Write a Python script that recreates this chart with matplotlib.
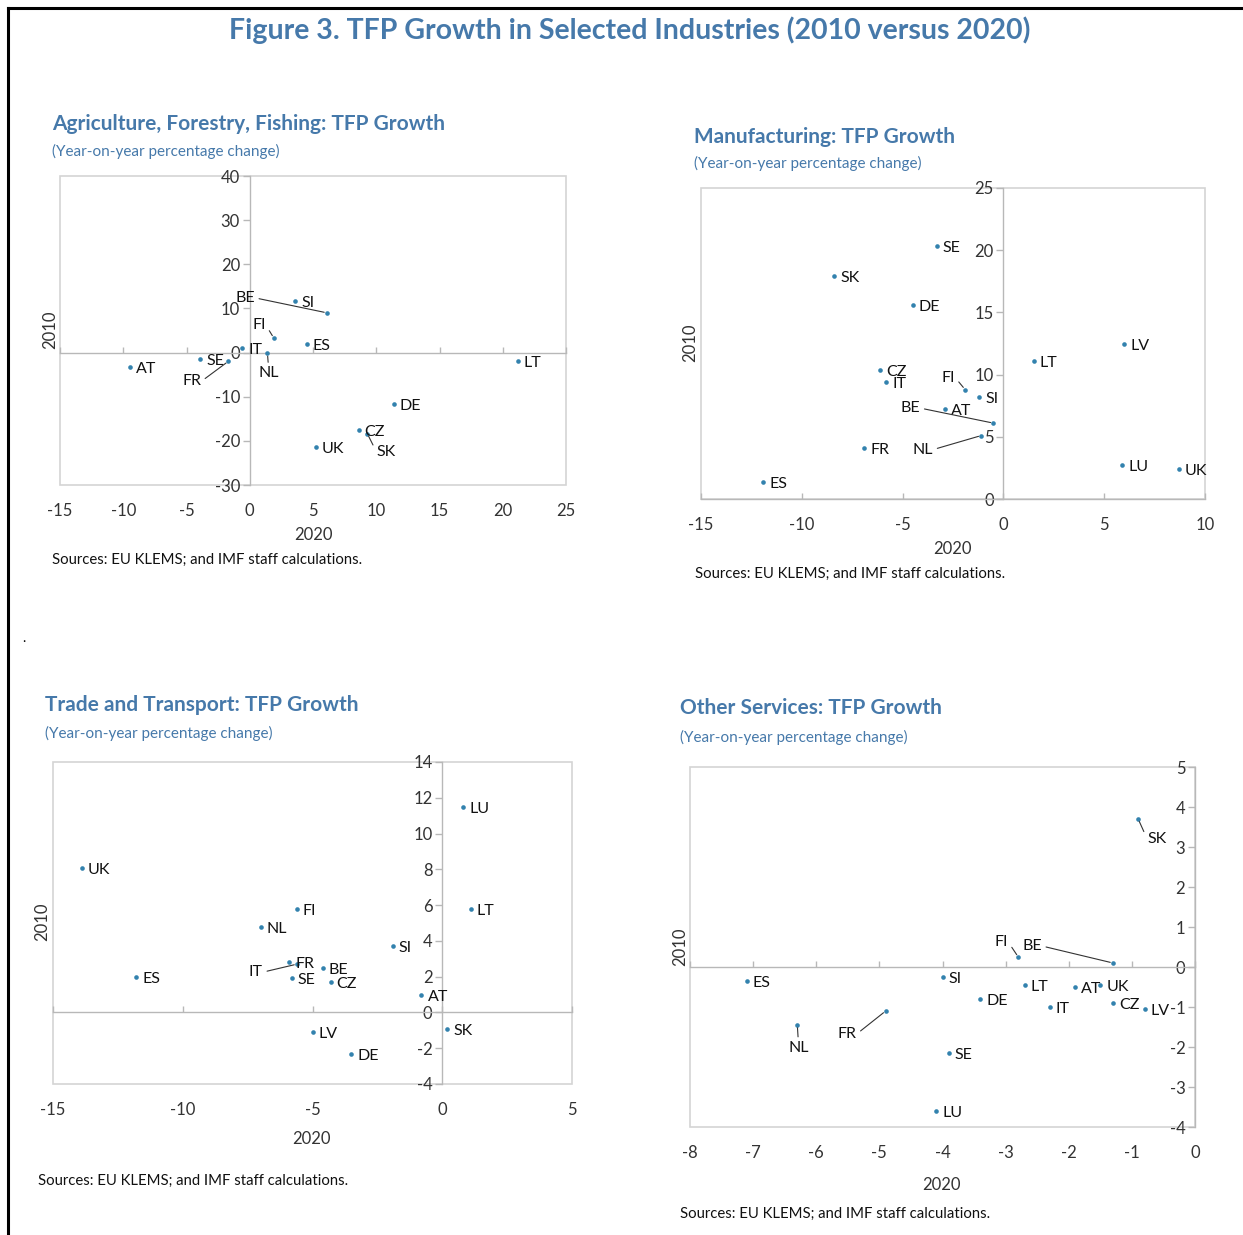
import matplotlib
matplotlib.use("Agg")
import matplotlib.pyplot as plt
from matplotlib.lines import Line2D
from matplotlib.patches import Rectangle

W, H = 1243, 1235
plt.rcParams['font.family'] = ['Liberation Sans Narrow', 'Lato', 'DejaVu Sans']

# ---- data: TFP growth, 2020 (x) versus 2010 (y), year-on-year % change ----
agri_countries = ["AT", "SE", "FR", "IT", "NL", "FI", "ES", "SI", "BE", "LT", "DE", "CZ", "SK", "UK"]
agri_2020 = [-9.5, -3.9, -1.7, -0.6, 1.4, 1.9, 4.5, 3.6, 6.1, 21.2, 11.4, 8.6, 9.3, 5.2]
agri_2010 = [-3.3, -1.4, -2.0, 1.1, -0.2, 3.3, 2.0, 11.6, 9.0, -2.0, -11.6, -17.6, -18.4, -21.5]

manu_countries = ["SE", "SK", "DE", "LV", "LT", "CZ", "IT", "FI", "SI", "AT", "BE", "NL", "FR", "ES", "LU", "UK"]
manu_2020 = [-3.3, -8.4, -4.5, 6.0, 1.5, -6.1, -5.8, -1.9, -1.2, -2.9, -0.5, -1.1, -6.9, -11.9, 5.9, 8.7]
manu_2010 = [20.3, 17.9, 15.6, 12.5, 11.1, 10.4, 9.4, 8.8, 8.2, 7.2, 6.1, 5.1, 4.1, 1.4, 2.7, 2.4]

trade_countries = ["UK", "LU", "LT", "FI", "NL", "SI", "IT", "FR", "BE", "ES", "SE", "CZ", "AT", "SK", "LV", "DE"]
trade_2020 = [-13.9, 0.8, 1.1, -5.6, -7.0, -1.9, -5.6, -5.9, -4.6, -11.8, -5.8, -4.3, -0.8, 0.2, -5.0, -3.5]
trade_2010 = [8.1, 11.5, 5.8, 5.8, 4.8, 3.7, 2.7, 2.8, 2.5, 2.0, 1.9, 1.7, 1.0, -0.9, -1.1, -2.3]

serv_countries = ["SK", "FI", "BE", "ES", "SI", "LT", "AT", "UK", "DE", "IT", "CZ", "LV", "FR", "NL", "SE", "LU"]
serv_2020 = [-0.9, -2.8, -1.3, -7.1, -4.0, -2.7, -1.9, -1.5, -3.4, -2.3, -1.3, -0.8, -4.9, -6.3, -3.9, -4.1]
serv_2010 = [3.7, 0.25, 0.1, -0.35, -0.25, -0.45, -0.5, -0.45, -0.8, -1.0, -0.9, -1.05, -1.1, -1.45, -2.15, -3.6]

# ---- style ----
BLUE = "#4679aa"
DOT = "#3382ae"
BOX = "#d4d4d4"
ZERO = "#b8b8b8"
TICK_TXT = "#333333"

fig = plt.figure(figsize=(W / 100, H / 100), dpi=100)
fig.patch.set_facecolor("white")


def fx(px):
    return px / W


def fy(py):
    return 1 - py / H


def make_axes(x0, x1, y0, y1):
    return fig.add_axes([fx(x0), fy(y1), (x1 - x0) / W, (y1 - y0) / H])


def style_axes(ax, xlim, ylim, xticks, yticks):
    ax.set_xlim(xlim)
    ax.set_ylim(ylim)
    ax.set_xticks(xticks)
    ax.set_yticks(yticks)
    ax.set_xticklabels([f"{t:g}" for t in xticks])
    ax.set_yticklabels([f"{t:g}" for t in yticks])
    ax.spines['right'].set_visible(False)
    ax.spines['bottom'].set_visible(False)
    ax.spines['top'].set_position(('data', 0))
    ax.spines['left'].set_position(('data', 0))
    for s in ('top', 'left'):
        ax.spines[s].set_color(ZERO)
        ax.spines[s].set_linewidth(1.0)
    ax.tick_params(axis='x', bottom=False, top=True, labelbottom=True, labeltop=False,
                   direction='out', length=4, width=1.0, color=ZERO, pad=9,
                   labelsize=12, labelcolor=TICK_TXT)
    ax.tick_params(axis='y', left=True, right=False, direction='out', length=5,
                   width=1.0, color=ZERO, pad=2, labelsize=12, labelcolor=TICK_TXT)
    ax.add_patch(Rectangle((0, 0), 1, 1, transform=ax.transAxes, fill=False,
                           edgecolor=BOX, lw=1.2, clip_on=False, zorder=0))
    ax.patch.set_alpha(0)


def plot_points(ax, names, xs, ys, special):
    ax.scatter(xs, ys, s=11, color=DOT, linewidths=0, zorder=3)
    for n, x, y in zip(names, xs, ys):
        dx, dy, ha, rel = special.get(n, (6, -2, 'left', None))
        kw = {}
        if rel is not None:
            kw['arrowprops'] = dict(arrowstyle='-', lw=0.8, color='#333333',
                                    shrinkA=1, shrinkB=2, relpos=rel)
        ax.annotate(n, (x, y), xytext=(dx, dy), textcoords='offset pixels',
                    ha=ha, va='center', fontsize=11.5, color='#111111', zorder=4, **kw)


def panel_text(title, tx, ty, sub_y, xl, yl, src):
    fig.text(fx(tx), fy(ty), title, fontsize=15, fontweight='bold', color=BLUE,
             ha='left', va='center')
    fig.text(fx(tx), fy(sub_y), "(Year-on-year percentage change)", fontsize=11,
             color=BLUE, ha='left', va='center')
    fig.text(fx(xl[0]), fy(xl[1]), "2020", fontsize=12, color=TICK_TXT, ha='center', va='center')
    fig.text(fx(yl[0]), fy(yl[1]), "2010", fontsize=12, color=TICK_TXT, ha='center',
             va='center', rotation=90)
    fig.text(fx(src[0]), fy(src[1]), "Sources: EU KLEMS; and IMF staff calculations.",
             fontsize=10.7, color='#111111', ha='left', va='center')


# ---- figure title and frame ----
fig.text(fx(630), fy(30), "Figure 3. TFP Growth in Selected Industries (2010 versus 2020)",
         fontsize=20.5, fontweight='bold', color=BLUE, ha='center', va='center')
fig.add_artist(Line2D([fx(8), 1], [fy(8), fy(8)], color='black', lw=2.2))
fig.add_artist(Line2D([fx(8), fx(8)], [fy(8), 0], color='black', lw=2.2))
fig.text(fx(24), fy(638), ".", fontsize=10, color='black', ha='center', va='center')

# ---- Agriculture ----
ax1 = make_axes(60, 566, 176, 485)
style_axes(ax1, (-15, 25), (-30, 40), list(range(-15, 26, 5)), list(range(-30, 41, 10)))
plot_points(ax1, agri_countries, agri_2020, agri_2010, {
    "FR": (-27, -20, 'right', (1, 0.5)),
    "NL": (1, -20, 'center', (0.5, 1)),
    "FI": (-8, 13, 'right', (1, 0.5)),
    "BE": (-72, 15, 'right', (1, 0.5)),
    "SK": (9, -18, 'left', (0, 0.5)),
})
panel_text("Agriculture, Forestry, Fishing: TFP Growth", 52, 124, 151,
           (313, 535), (50, 330), (52, 560))

# ---- Manufacturing ----
ax2 = make_axes(701, 1205, 188, 499)
style_axes(ax2, (-15, 10), (0, 25), list(range(-15, 11, 5)), list(range(0, 26, 5)))
plot_points(ax2, manu_countries, manu_2020, manu_2010, {
    "FI": (-10, 12, 'right', (1, 0.5)),
    "BE": (-73, 15, 'right', (1, 0.5)),
    "NL": (-48, -14, 'right', (1, 0.5)),
})
panel_text("Manufacturing: TFP Growth", 694, 137, 163,
           (952, 549), (690, 343), (695, 574))

# ---- Trade and Transport ----
ax3 = make_axes(53, 572, 762, 1084)
style_axes(ax3, (-15, 5), (-4, 14), list(range(-15, 6, 5)), list(range(-4, 15, 2)))
plot_points(ax3, trade_countries, trade_2020, trade_2010, {
    "IT": (-34, -8, 'right', (1, 0.5)),
})
panel_text("Trade and Transport: TFP Growth", 45, 705, 733,
           (311, 1139), (42, 922), (38, 1181))

# ---- Other Services ----
ax4 = make_axes(690, 1195, 767, 1127)
style_axes(ax4, (-8, 0), (-4, 5), list(range(-8, 1)), list(range(-4, 6)))
plot_points(ax4, serv_countries, serv_2020, serv_2010, {
    "SK": (9, -20, 'left', (0, 0.5)),
    "FI": (-10, 15, 'right', (1, 0.5)),
    "BE": (-71, 17, 'right', (1, 0.5)),
    "FR": (-29, -23, 'right', (1, 0.5)),
    "NL": (1, -23, 'center', (0.5, 1)),
})
panel_text("Other Services: TFP Growth", 680, 708, 737,
           (941, 1185), (680, 947), (680, 1214))

fig.savefig("out.png", dpi=100, facecolor="white")
